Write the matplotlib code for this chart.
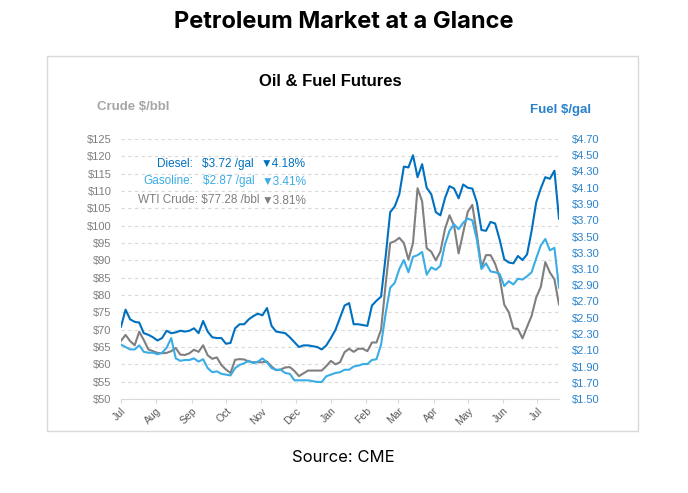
import matplotlib
matplotlib.use("Agg")
import matplotlib.pyplot as plt
import matplotlib.dates as mdates
from matplotlib.patches import Rectangle
from matplotlib.ticker import FuncFormatter, FixedLocator
import numpy as np
import pandas as pd

plt.rcParams["text.parse_math"] = False

# ---- data (~every 4 days) ----
dates = pd.date_range("2021-07-01", periods=97, freq="4D")

diesel = [  # $/gal
    2.39, 2.60, 2.48, 2.45, 2.44, 2.31, 2.29, 2.26, 2.22, 2.25,
    2.34, 2.31, 2.32, 2.34, 2.33, 2.34, 2.37, 2.31, 2.46, 2.33,
    2.26, 2.25, 2.25, 2.18, 2.19, 2.37, 2.42, 2.42, 2.48, 2.52,
    2.55, 2.53, 2.62, 2.40, 2.33, 2.32, 2.31, 2.26, 2.20, 2.14,
    2.16, 2.16, 2.15, 2.14, 2.11, 2.16, 2.25, 2.35, 2.50, 2.65,
    2.68, 2.42, 2.42, 2.41, 2.40, 2.65, 2.71, 2.76, 3.25, 3.80,
    3.87, 4.02, 4.36, 4.35, 4.50, 4.23, 4.39, 4.10, 4.02, 3.80,
    3.76, 3.97, 4.12, 4.09, 3.97, 4.14, 4.10, 4.09, 3.92, 3.58,
    3.57, 3.68, 3.66, 3.46, 3.22, 3.18, 3.17, 3.26, 3.21, 3.28,
    3.57, 3.92, 4.09, 4.23, 4.21, 4.31, 3.72,
]

gasoline = [  # $/gal
    2.17, 2.14, 2.11, 2.11, 2.16, 2.08, 2.07, 2.07, 2.05, 2.07,
    2.13, 2.25, 2.00, 1.97, 1.98, 1.98, 2.00, 1.96, 1.99, 1.88,
    1.83, 1.84, 1.81, 1.80, 1.79, 1.88, 1.92, 1.94, 1.97, 1.94,
    1.96, 2.00, 1.95, 1.88, 1.86, 1.86, 1.82, 1.81, 1.73, 1.73,
    1.73, 1.73, 1.72, 1.71, 1.71, 1.78, 1.80, 1.82, 1.83, 1.86,
    1.86, 1.90, 1.91, 1.93, 1.93, 1.98, 1.99, 2.17, 2.55, 2.87,
    2.93, 3.10, 3.21, 3.06, 3.25, 3.27, 3.31, 3.03, 3.12, 3.09,
    3.14, 3.40, 3.57, 3.65, 3.59, 3.67, 3.72, 3.70, 3.46, 3.10,
    3.17, 3.07, 3.06, 3.04, 2.89, 2.95, 2.91, 2.98, 2.97, 3.01,
    3.06, 3.23, 3.39, 3.47, 3.33, 3.36, 2.87,
]

crude = [  # $/bbl
    66.8, 68.5, 66.7, 65.5, 69.4, 67.0, 64.3, 63.8, 63.3, 63.2,
    63.3, 63.8, 64.7, 62.8, 62.7, 63.2, 64.2, 63.6, 65.5, 62.6,
    61.6, 62.0, 59.8, 58.5, 57.5, 61.3, 61.5, 61.4, 60.8, 60.6,
    60.6, 60.6, 60.8, 59.4, 58.3, 58.5, 59.1, 59.2, 58.1, 56.6,
    57.4, 58.2, 58.2, 58.2, 58.2, 59.5, 61.0, 60.0, 60.6, 63.5,
    64.5, 63.6, 64.5, 64.5, 63.8, 66.3, 66.3, 70.0, 83.0, 95.0,
    95.5, 96.5, 95.0, 90.2, 95.0, 110.8, 107.0, 93.5, 92.5, 90.0,
    92.5, 99.0, 103.0, 100.0, 92.0, 98.0, 104.0, 106.0, 97.5, 88.0,
    91.5, 91.5, 89.0, 85.0, 77.2, 75.0, 70.4, 70.2, 67.5, 70.8,
    74.0, 79.3, 82.3, 89.5, 86.5, 84.5, 77.28,
]

# daily % changes shown in the legend block
pct_change = {"Diesel": -4.18, "Gasoline": -3.41, "WTI Crude": -3.81}

crude_ticks = list(range(50, 126, 5))
fuel_ticks = [1.50, 1.70, 1.90, 2.10, 2.30, 2.50, 2.70, 2.90, 3.10, 3.30,
              3.50, 3.70, 3.90, 4.10, 4.30, 4.50, 4.70]

DIESEL_C = "#0070C0"
GAS_C = "#3AACE6"
CRUDE_C = "#7F7F7F"
RIGHT_C = "#2A82CC"
SANS = ["Liberation Sans", "DejaVu Sans"]

W, H = 688, 493


def px(x, y):
    # pixel position -> figure fraction
    return x / W, 1 - y / H


fig = plt.figure(figsize=(W / 100, H / 100), dpi=100)
fig.patch.set_facecolor("white")

# panel frame
fig.patches.append(Rectangle(px(47, 431), 591 / W, 375 / H, transform=fig.transFigure,
                             fill=False, edgecolor="#D9D9D9", linewidth=1))

ax = fig.add_axes([121 / W, 1 - 399 / H, (559 - 121) / W, 260 / H])
ax2 = ax.twinx()

ax.plot(dates, crude, color=CRUDE_C, linewidth=1.5, zorder=3)
ax2.plot(dates, gasoline, color=GAS_C, linewidth=1.5, zorder=3)
ax2.plot(dates, diesel, color=DIESEL_C, linewidth=1.5, zorder=4)

ax.set_xlim(dates[0], dates[-1])
ax.set_ylim(50, 125)
ax2.set_ylim(1.50, 4.70)

ax.yaxis.set_major_locator(FixedLocator(crude_ticks))
ax.yaxis.set_major_formatter(FuncFormatter(lambda v, p: f"${v:.0f}"))
ax2.yaxis.set_major_locator(FixedLocator(fuel_ticks))
ax2.yaxis.set_major_formatter(FuncFormatter(lambda v, p: f"${v:.2f}"))

ax.grid(axis="y", color="#D9D9D9", linestyle=(0, (3, 3)), linewidth=0.8)
ax.set_axisbelow(True)

for side in ("top", "right", "left"):
    ax.spines[side].set_visible(False)
for side in ("top", "right", "left", "bottom"):
    ax2.spines[side].set_visible(False)
ax.spines["bottom"].set_color("#D9D9D9")

ax.tick_params(axis="y", length=0, pad=7, labelsize=8, labelcolor=CRUDE_C)
ax2.tick_params(axis="y", length=0, pad=9, labelsize=8, labelcolor=RIGHT_C)
for t in ax.get_yticklabels() + ax2.get_yticklabels():
    t.set_fontfamily(SANS)

ax.xaxis.set_major_locator(mdates.MonthLocator())
ax.xaxis.set_major_formatter(mdates.DateFormatter("%b"))
ax.tick_params(axis="x", length=3, color="#D9D9D9", labelsize=7.5,
               labelcolor="#595959", pad=2)
for t in ax.get_xticklabels():
    t.set_rotation(45)
    t.set_ha("right")
    t.set_rotation_mode("anchor")
    t.set_fontfamily(SANS)

# titles and axis captions
fig.text(*px(344, 22), "Petroleum Market at a Glance", ha="center", va="center",
         fontsize=17, fontweight="bold", family=["Inter", "DejaVu Sans"])
fig.text(*px(330, 82), "Oil & Fuel Futures", ha="center", va="center",
         fontsize=12, fontweight="bold", family=SANS)
fig.text(*px(97, 107), "Crude $/bbl", ha="left", va="center",
         fontsize=9.5, fontweight="bold", color="#A6A6A6", family=SANS)
fig.text(*px(591, 110), "Fuel $/gal", ha="right", va="center",
         fontsize=9.5, fontweight="bold", color=RIGHT_C, family=SANS)

# latest-price block
arrow = lambda v: ("▼" if v < 0 else "▲") + f"{abs(v):.2f}%"
fig.text(*px(193, 164), "Diesel:", ha="right", va="center", fontsize=8.5,
         color=DIESEL_C, family=SANS)
fig.text(*px(202, 164), f"${diesel[-1]:.2f} /gal", ha="left", va="center",
         fontsize=8.5, color=DIESEL_C, family=SANS)
fig.text(*px(261, 164), arrow(pct_change["Diesel"]), ha="left", va="center",
         fontsize=8.5, color=DIESEL_C, family=SANS)

fig.text(*px(193, 181.5), "Gasoline:", ha="right", va="center", fontsize=8.5,
         color=GAS_C, family=SANS)
fig.text(*px(203, 181.5), f"${gasoline[-1]:.2f} /gal", ha="left", va="center",
         fontsize=8.5, color=GAS_C, family=SANS)
fig.text(*px(262, 181.5), arrow(pct_change["Gasoline"]), ha="left", va="center",
         fontsize=8.5, color=GAS_C, family=SANS)

fig.text(*px(260, 200.5), f"WTI Crude: ${crude[-1]:.2f} /bbl", ha="right",
         va="center", fontsize=8.5, color=CRUDE_C, family=SANS)
fig.text(*px(262, 200.5), arrow(pct_change["WTI Crude"]), ha="left", va="center",
         fontsize=8.5, color=CRUDE_C, family=SANS)

fig.text(*px(343, 458), "Source: CME", ha="center", va="center",
         fontsize=12, family=["Inter", "DejaVu Sans"])

fig.savefig("out.png", dpi=100, facecolor="white")
